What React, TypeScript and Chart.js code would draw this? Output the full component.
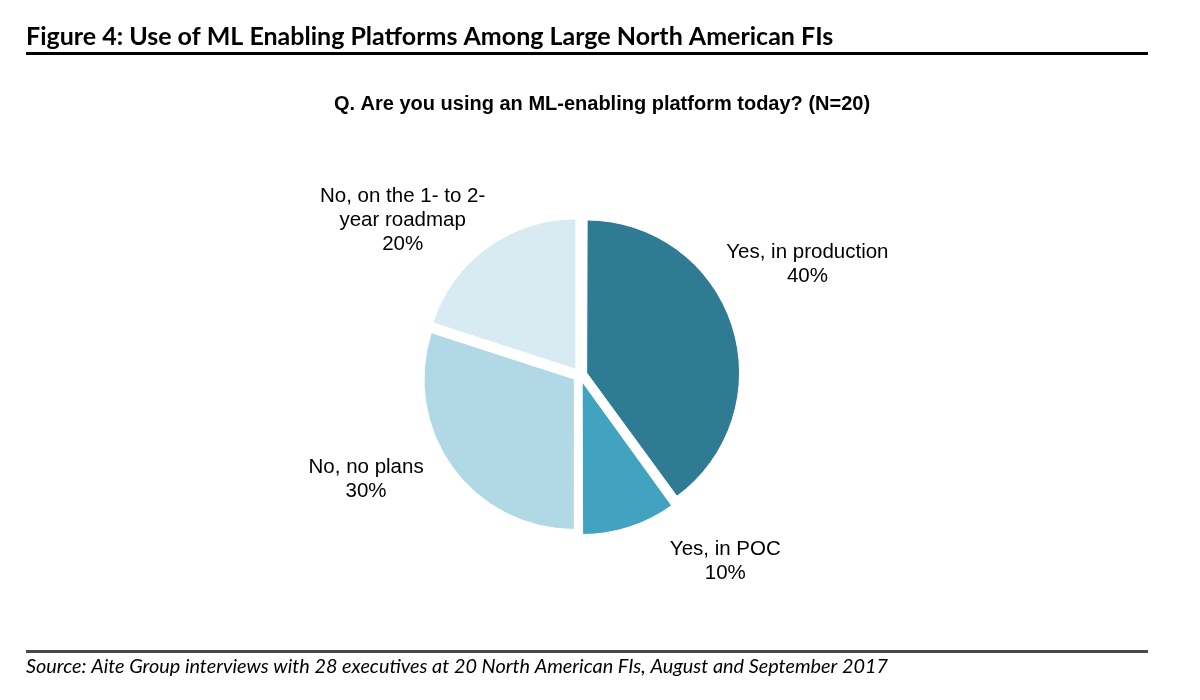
import React, { useEffect, useRef } from "react";
import { Chart, registerables } from "chart.js";

Chart.register(...registerables);

const categories = ["Yes, in production", "Yes, in POC", "No, no plans", "No, on the 1- to 2-year roadmap"];
const labelLines = [
  ["Yes, in production"],
  ["Yes, in POC"],
  ["No, no plans"],
  ["No, on the 1- to 2-", "year roadmap"],
];
const values = [40, 10, 30, 20];
const colors = ["#2E7B93", "#42A3C0", "#B0D9E5", "#D8EBF2"];

// label placement (angle shift from slice middle in degrees, distance beyond rim in px)
const labelAngleShift = [-8, -20, 10, -13];
const labelGap = [103, 86, 88, 85];

const titleText = "Figure 4: Use of ML Enabling Platforms Among Large North American FIs";
const subtitleText = "Q. Are you using an ML-enabling platform today? (N=20)";
const sourceText = "Source: Aite Group interviews with 28 executives at 20 North American FIs, August and September 2017";

const decorPlugin = {
  id: "decor",
  afterDraw(chart: any) {
    const ctx = chart.ctx;
    ctx.save();
    ctx.fillStyle = "#000";
    ctx.textAlign = "left";
    ctx.textBaseline = "alphabetic";
    ctx.font = "bold 25px Lato";
    ctx.fillText(titleText, 26, 45, 847);
    ctx.fillRect(26, 52, 1122, 3);
    ctx.textAlign = "center";
    ctx.font = "bold 20px 'Liberation Sans'";
    ctx.fillText(subtitleText, 602, 110, 550);
    ctx.fillStyle = "#4a4a4a";
    ctx.fillRect(26, 650, 1122, 3);
    ctx.fillStyle = "#000";
    ctx.textAlign = "left";
    ctx.font = "italic 20px Lato";
    ctx.fillText(sourceText, 26, 673, 862);

    const meta = chart.getDatasetMeta(0);
    ctx.font = "20.5px 'Liberation Sans'";
    ctx.textAlign = "center";
    ctx.textBaseline = "middle";
    meta.data.forEach((arc: any, i: number) => {
      const p = arc.getProps(["x", "y", "startAngle", "endAngle", "outerRadius"], true);
      const mid = (p.startAngle + p.endAngle) / 2 + (labelAngleShift[i] * Math.PI) / 180;
      const dist = p.outerRadius + labelGap[i];
      const cx = p.x + Math.cos(mid) * dist;
      const cy = p.y + Math.sin(mid) * dist;
      const lines = [...labelLines[i], values[i] + "%"];
      const lh = 24;
      const top = cy - ((lines.length - 1) * lh) / 2;
      lines.forEach((t, k) => ctx.fillText(t, cx, top + k * lh));
    });
    ctx.restore();
  },
};

const bgPlugin = {
  id: "bg",
  beforeDraw(chart: any) {
    const ctx = chart.ctx;
    ctx.save();
    ctx.fillStyle = "#fff";
    ctx.fillRect(0, 0, chart.width, chart.height);
    ctx.restore();
  },
};

export default function App() {
  const ref = useRef<HTMLCanvasElement>(null);
  useEffect(() => {
    document.body.style.margin = "0";
    const chart = new Chart(ref.current!, {
      type: "pie",
      data: {
        labels: categories,
        datasets: [
          {
            data: values,
            backgroundColor: colors,
            borderColor: "#fff",
            borderWidth: 1,
            offset: 28,
            radius: 150,
          } as any,
        ],
      },
      options: {
        responsive: false,
        animation: false,
        layout: { padding: { left: 0, right: 40, top: 50, bottom: 0 } },
        plugins: { legend: { display: false }, tooltip: { enabled: false }, title: { display: false } },
      },
      plugins: [bgPlugin, decorPlugin],
    });
    return () => chart.destroy();
  }, []);
  return (
    <div style={{ width: 1200, height: 700, background: "#fff" }}>
      <canvas ref={ref} width={1200} height={700} style={{ display: "block" }} />
    </div>
  );
}
